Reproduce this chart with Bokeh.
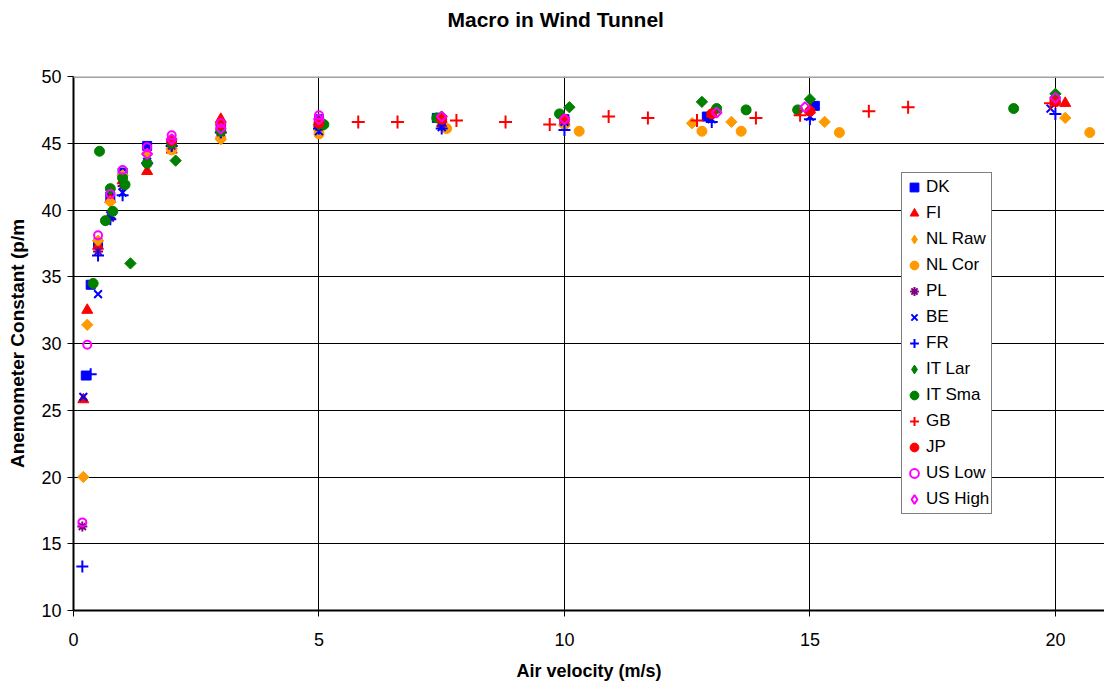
import math
from bokeh.plotting import figure
from bokeh.models import Range1d, FixedTicker, Legend, LegendItem, Span, Title
from bokeh.embed import file_html
from bokeh.resources import INLINE

# Air velocity (m/s) and anemometer constant (p/m) per laboratory
dk_v = [0.25, 0.35, 0.5, 0.75, 1.0, 1.5, 2.0, 3.0, 5.0, 7.4, 10.0, 12.9, 15.1, 20.0]
dk_k = [27.6, 34.4, 37.5, 41.0, 42.8, 44.8, 45.0, 46.2, 46.8, 46.9, 46.8, 47.0, 47.8, 48.2]

fi_v = [0.2, 0.28, 0.5, 0.75, 1.0, 1.5, 2.0, 3.0, 5.0, 7.5, 10.0, 13.0, 15.0, 20.2]
fi_k = [25.8, 32.5, 37.3, 40.8, 42.2, 42.9, 44.5, 46.8, 46.5, 46.8, 46.6, 47.2, 47.5, 48.0]

nlraw_v = [0.2, 0.28, 0.5, 0.75, 1.0, 1.5, 2.0, 3.0, 5.0, 7.5, 10.0, 12.6, 13.4, 15.3, 20.2]
nlraw_k = [20.0, 31.4, 37.7, 40.6, 42.6, 44.2, 44.6, 45.3, 46.0, 46.3, 46.3, 46.5, 46.6, 46.6, 46.9]

nlcor_v = [2.0, 3.0, 5.0, 7.6, 10.3, 12.8, 13.6, 15.6, 20.7]
nlcor_k = [44.5, 45.4, 45.7, 46.1, 45.9, 45.9, 45.9, 45.8, 45.8]

pl_v = [0.18, 0.5, 0.75, 1.0, 1.5, 2.0, 3.0, 5.0, 7.5]
pl_k = [16.3, 36.9, 39.4, 41.8, 43.5, 44.8, 45.8, 46.2, 46.3]

be_v = [0.2, 0.5, 0.75, 1.0, 1.5, 2.0, 3.0, 5.0, 7.5, 10.0, 13.0, 15.0, 19.9]
be_k = [26.0, 33.7, 39.6, 41.3, 43.6, 45.0, 45.9, 45.9, 46.2, 46.6, 46.8, 47.0, 47.6]

fr_v = [0.18, 0.35, 0.5, 0.75, 1.0, 1.5, 2.0, 3.0, 5.0, 7.5, 10.0, 13.0, 15.0, 20.0]
fr_k = [13.3, 27.7, 36.6, 39.3, 41.1, 43.5, 44.8, 45.8, 46.1, 46.1, 46.0, 46.6, 46.8, 47.2]

itlar_v = [1.16, 2.08, 5.0, 7.5, 10.1, 12.8, 15.0, 20.0]
itlar_k = [36.0, 43.7, 46.4, 47.0, 47.7, 48.1, 48.3, 48.7]

itsma_v = [0.4, 0.53, 0.65, 0.75, 0.8, 1.0, 1.05, 1.5, 2.0, 3.0, 5.1, 7.4, 9.9, 13.1, 13.7, 14.75, 19.15]
itsma_k = [34.5, 44.4, 39.2, 41.6, 39.9, 42.4, 41.9, 43.5, 45.0, 45.9, 46.4, 46.9, 47.2, 47.6, 47.5, 47.5, 47.6]

gb_v = [5.8, 6.6, 7.8, 8.8, 9.7, 10.9, 11.7, 12.7, 13.9, 14.8, 16.2, 17.0, 19.9]
gb_k = [46.6, 46.6, 46.7, 46.6, 46.4, 47.0, 46.9, 46.7, 46.9, 47.1, 47.4, 47.7, 48.0]

jp_v = [2.0, 3.0, 5.0, 7.5, 10.0, 13.0, 15.0, 20.0]
jp_k = [45.2, 46.4, 46.5, 46.8, 46.8, 47.2, 47.4, 48.1]

uslow_v = [0.18, 0.28, 0.5, 0.75, 1.0, 1.5, 2.0, 3.0, 5.0]
uslow_k = [16.6, 29.9, 38.1, 41.2, 43.0, 44.7, 45.6, 46.5, 47.1]

ushigh_v = [1.5, 2.0, 3.0, 5.0, 7.5, 10.0, 13.1, 14.9, 20.0]
ushigh_k = [44.2, 45.3, 46.1, 46.8, 47.0, 46.8, 47.3, 47.7, 48.4]

x_ticks = [0, 5, 10, 15, 20]
y_ticks = [10, 15, 20, 25, 30, 35, 40, 45, 50]

FONT = "Liberation Sans"
BLUE, RED, ORANGE = "#0000FF", "#FF0000", "#FF9900"
PURPLE, GREEN, MAGENTA = "#800080", "#008000", "#FF00FF"
TILT = math.pi / 4  # a square turned by 45 degrees gives an even-sided diamond

# name, x, y, marker, color, size, filled, angle
series = [
    ("DK", dk_v, dk_k, "square", BLUE, 9, True, 0),
    ("FI", fi_v, fi_k, "triangle", RED, 11, True, 0),
    ("NL Raw", nlraw_v, nlraw_k, "square", ORANGE, 8, True, TILT),
    ("NL Cor", nlcor_v, nlcor_k, "circle", ORANGE, 10, True, 0),
    ("PL", pl_v, pl_k, "asterisk", PURPLE, 10, False, 0),
    ("BE", be_v, be_k, "x", BLUE, 11, False, 0),
    ("FR", fr_v, fr_k, "cross", BLUE, 12, False, 0),
    ("IT Lar", itlar_v, itlar_k, "square", GREEN, 8, True, TILT),
    ("IT Sma", itsma_v, itsma_k, "circle", GREEN, 10, True, 0),
    ("GB", gb_v, gb_k, "cross", RED, 13, False, 0),
    ("JP", jp_v, jp_k, "circle", RED, 10, True, 0),
    ("US Low", uslow_v, uslow_k, "circle", MAGENTA, 8, False, 0),
    ("US High", ushigh_v, ushigh_k, "square", MAGENTA, 7, False, TILT),
]

p = figure(width=1104, height=683, output_backend="svg", toolbar_location=None,
           x_range=Range1d(0, 21), y_range=Range1d(10, 50),
           min_border_left=73, min_border_right=0, min_border_top=0,
           min_border_bottom=72, title=None)
p.background_fill_color = "white"
p.border_fill_color = "white"
p.outline_line_color = None

# blank spacer between the heading and the plot area, then the heading itself
p.add_layout(Title(text=" ", text_font_size="1px", standoff=38), "above")
p.add_layout(Title(text="Macro in Wind Tunnel", text_font=FONT, text_font_size="21px",
                   text_font_style="bold", text_color="black",
                   align="left", offset=374, standoff=10), "above")

for ax, ticks in ((p.xaxis, x_ticks), (p.yaxis, y_ticks)):
    ax.ticker = FixedTicker(ticks=ticks)
    ax.axis_line_color = "black"
    ax.axis_line_width = 2
    ax.major_tick_line_color = "black"
    ax.major_tick_line_width = 1
    ax.major_tick_in = 0
    ax.major_tick_out = 6
    ax.minor_tick_line_color = None
    ax.major_label_text_font = FONT
    ax.major_label_text_font_size = "18px"
    ax.major_label_text_color = "black"
    ax.axis_label_text_font = FONT
    ax.axis_label_text_font_size = "18px"
    ax.axis_label_text_font_style = "bold"
    ax.axis_label_text_color = "black"

p.xaxis.axis_label = "Air velocity (m/s)"
p.xaxis.major_label_standoff = 16
p.xaxis.axis_label_standoff = 12
p.yaxis.axis_label = "Anemometer Constant (p/m"
p.yaxis.axis_label_text_font_size = "19px"
p.yaxis.major_label_standoff = 6
p.yaxis.axis_label_standoff = 10

p.xgrid.ticker = FixedTicker(ticks=x_ticks)
p.ygrid.ticker = FixedTicker(ticks=y_ticks)
p.grid.grid_line_color = "black"
p.grid.grid_line_width = 1

p.add_layout(Span(location=50, dimension="width", line_color="#A0A0A0", line_width=3))

items = []
for name, xs, ys, marker, color, size, filled, angle in series:
    style = dict(line_color=color, line_width=1 if filled else 2,
                 fill_color=color if filled else None)
    r = p.scatter(xs, ys, marker=marker, size=size, angle=angle, **style)
    if angle:
        # the legend swatch ignores rotation: a zero-size diamond series supplies it
        r = p.scatter(xs, ys, marker="diamond", size=0, **style)
    items.append(LegendItem(label=name, renderers=[r]))

legend = Legend(items=items, location=(828, 96),
                label_text_font=FONT, label_text_font_size="17px", label_text_color="black",
                glyph_width=22, glyph_height=26, label_height=26, label_width=64,
                label_standoff=1, spacing=0, padding=1, margin=0,
                border_line_color="black", border_line_width=1.5,
                background_fill_color="white", background_fill_alpha=1)
p.add_layout(legend, "center")

open("out.html", "w").write(file_html(p, INLINE))
